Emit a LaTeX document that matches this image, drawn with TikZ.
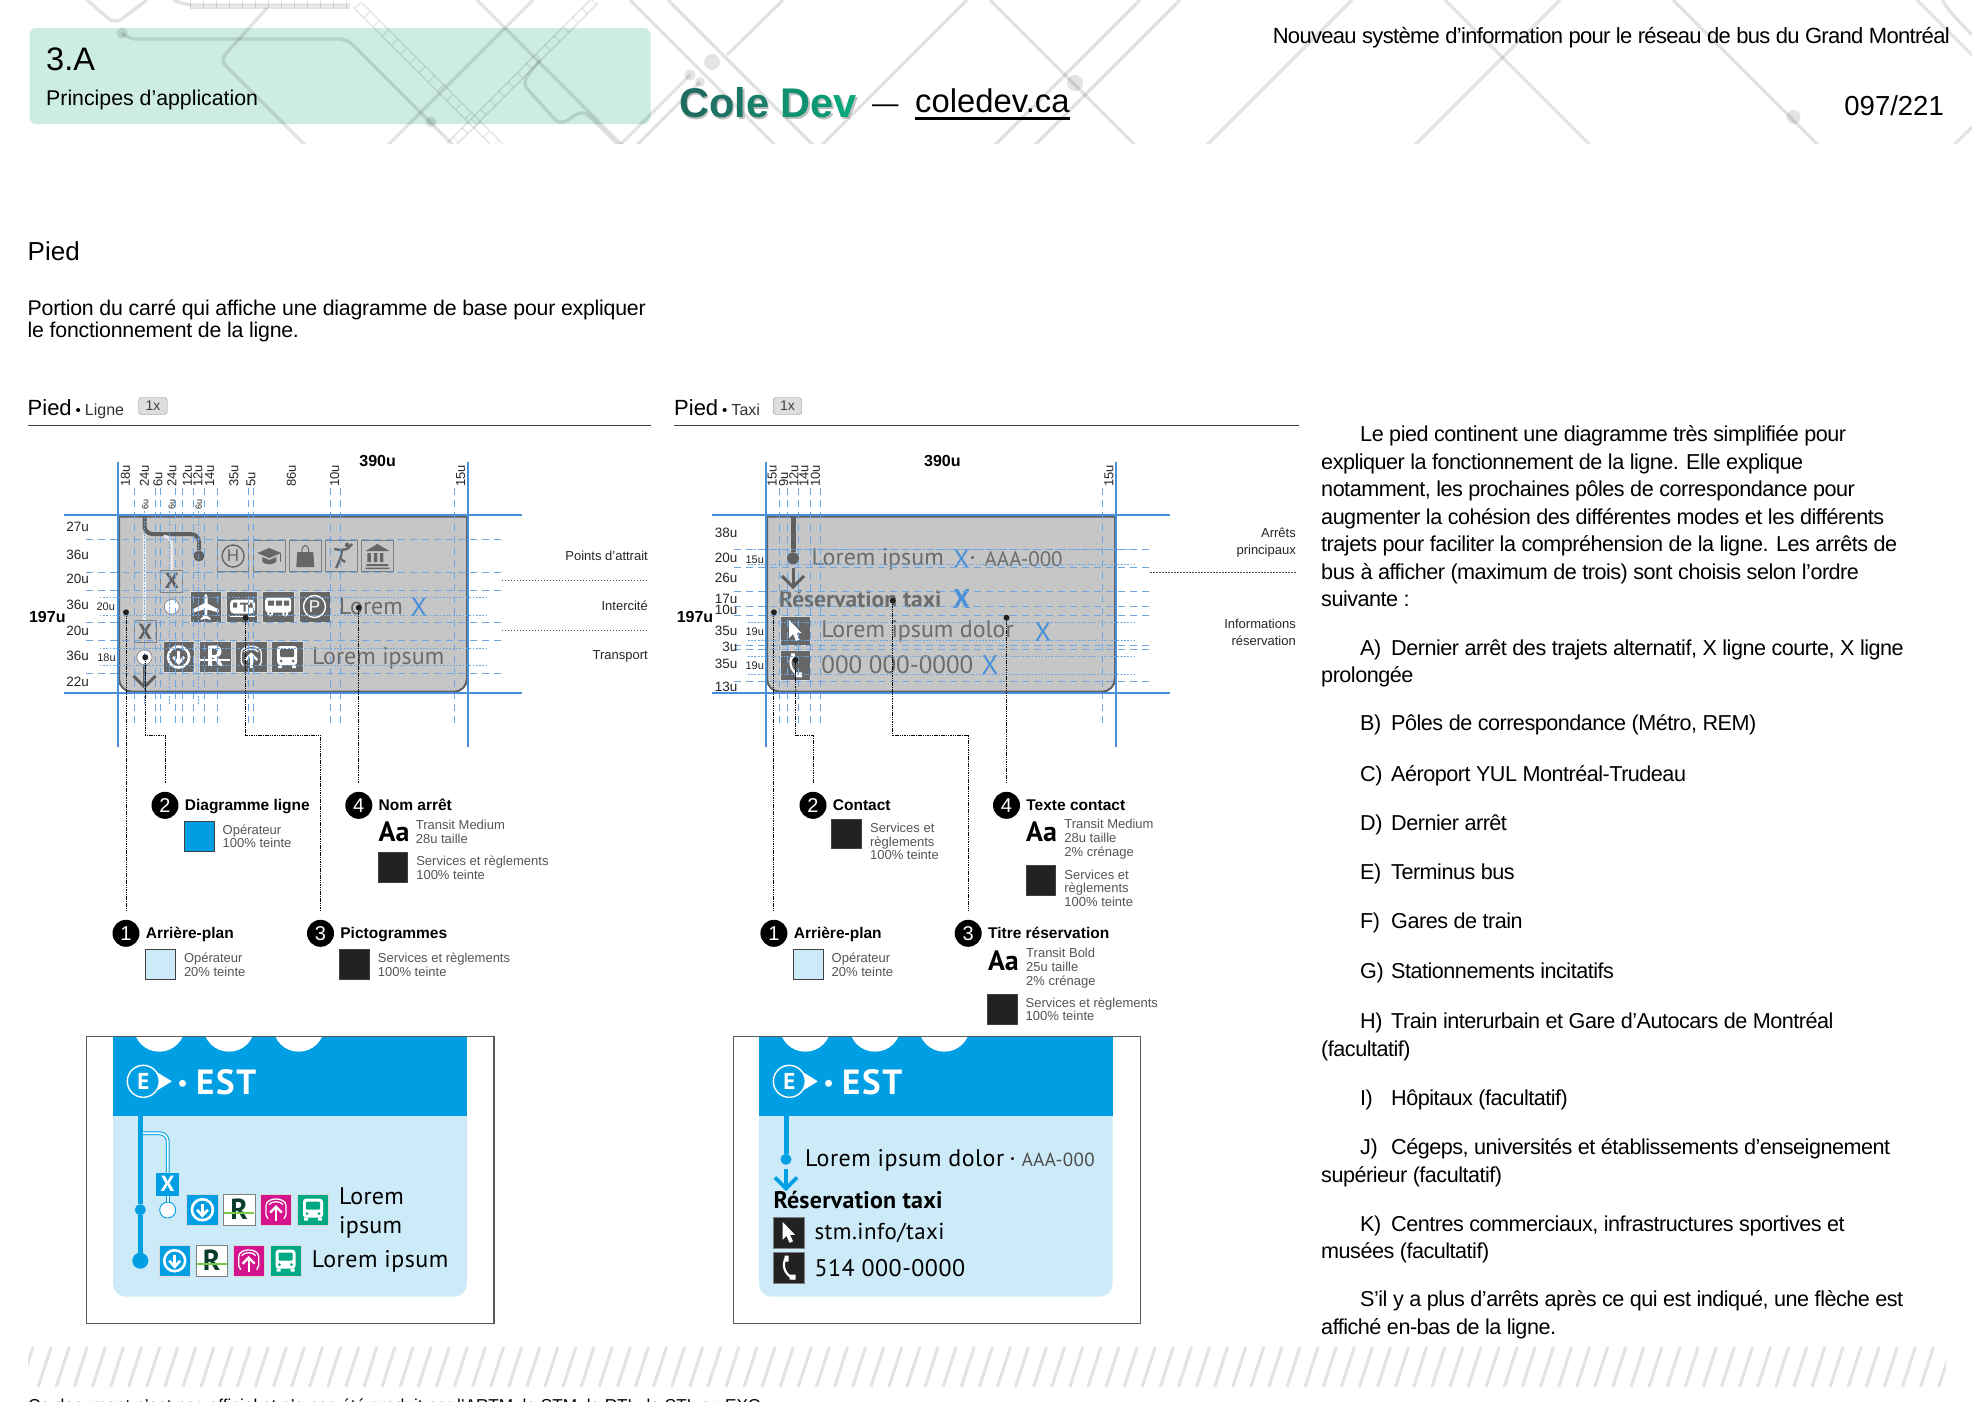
\documentclass[tikz,border=0pt]{standalone}
\usepackage{fontspec}
\setmainfont{Liberation Sans}[Ligatures=ResetAll]
\newfontfamily\transit{PT Sans}
\usetikzlibrary{arrows.meta,positioning,calc}
\definecolor{opblue}{HTML}{009FE3}
\definecolor{oplight}{HTML}{CCEAF7}
\definecolor{guideblue}{HTML}{4A90D9}
\definecolor{panelgray}{HTML}{C6C6C6}
\definecolor{paneledge}{HTML}{5F5F5F}
\definecolor{icongray}{HTML}{666666}
\definecolor{inkdark}{HTML}{222222}
\definecolor{notegray}{HTML}{555555}
\definecolor{softteal}{HTML}{CCECE4}
\definecolor{trainpink}{HTML}{D4148C}
\definecolor{busgreen}{HTML}{00A883}
\definecolor{rgreen}{HTML}{0B3D2E}
\definecolor{rline}{HTML}{7AC943}
\newcommand{\sizept}[1]{\fontsize{#1}{#1}\selectfont}
\newcommand{\itemtag}[1]{\hspace*{39pt}\makebox[31pt][l]{#1}}
\tikzset{
  pics/metroicon/.style={code={
    \draw[#1,line width=2.6pt] (0,0) circle (10.5);
    \draw[#1,line width=2.6pt] (0,-6)--(0,6);
    \draw[#1,line width=2.6pt] (-5.5,0)--(0,6)--(5.5,0);
  }},
  pics/ricon/.style 2 args={code={
    \node[inner sep=0,text=#1,font=\transit\bfseries\sizept{29}] (-r) at (0,-1) {R};
    \draw[#2,line width=2pt] (-15,3)--(15,3);
  }},
  pics/trainicon/.style={code={
    \draw[#1,line width=1.3pt] (-8,9)--(-10,5)--(-10,-4) .. controls (-10,-13) and (10,-13) .. (10,-4)--(10,5)--(8,9);
    \draw[#1,line width=1.3pt] (-7,-5) .. controls (-5,-9) and (5,-9) .. (7,-5);
    \draw[#1,line width=2.4pt] (0,11)--(0,-3);
    \draw[#1,line width=2.4pt] (-6,3)--(0,-3)--(6,3);
  }},
  pics/busicon/.style 2 args={code={
    \fill[#1,rounded corners=3pt] (-10,-11) rectangle (10,8);
    \fill[#2,rounded corners=1pt] (-7,-8) rectangle (7,0);
    \fill[#2] (-6,4) circle (1.5) (6,4) circle (1.5);
    \fill[#1] (-9,8) rectangle (-5,11) (5,8) rectangle (9,11);
  }},
  pics/planeicon/.style={code={
    \fill[#1] (0,-13)--(1.8,-10)--(1.8,-3)--(13,3)--(13,6)--(1.8,3)--(1.4,9)--(5,12)--(5,13.5)--(0,12)--(-5,13.5)--(-5,12)--(-1.4,9)--(-1.8,3)--(-13,6)--(-13,3)--(-1.8,-3)--(-1.8,-10)--cycle;
  }},
  pics/tramicon/.style 2 args={code={
    \fill[#1,rounded corners=4pt] (-12,-7) rectangle (13,7);
    \fill[#2] (-9,-4) rectangle (-5,1) (-2,-4) rectangle (8,-2) (1.5,-2) rectangle (3.5,5) (6,-4)--(10,-4)--(11,1)--(6,1)--cycle;
    \fill[#1] (-12,9) rectangle (13,10.5);
  }},
  pics/coachicon/.style 2 args={code={
    \fill[#1,rounded corners=3pt] (-13,-9) rectangle (13,6);
    \fill[#2] (-10,-6) rectangle (-4,-1) (-2,-6) rectangle (4,-1) (6,-6) rectangle (11,-1);
    \fill[#1] (-8,7) circle (3) (7,7) circle (3);
    \fill[#2] (-8,7) circle (1.2) (7,7) circle (1.2);
  }},
  pics/hicon/.style 2 args={code={
    \draw[#1,line width=1.4pt] (0,0) circle (11);
    \node[inner sep=0,text=#1,font=\sizept{17}] (-t) at (0,0) {#2};
  }},
  pics/capicon/.style={code={
    \fill[#1] (-12,-3)--(0,-8)--(12,-3)--(0,2)--cycle;
    \fill[#1] (-7,1)--(0,4)--(7,1)--(7,6) .. controls (3,9) and (-3,9) .. (-7,6)--cycle;
    \draw[#1,line width=1pt] (11,-3)--(11,6);
  }},
  pics/bagicon/.style={code={
    \fill[#1] (-8,-4)--(8,-4)--(9,11)--(-9,11)--cycle;
    \draw[#1,line width=1pt] (-3.5,-4) .. controls (-3.5,-13) and (3.5,-13) .. (3.5,-4);
  }},
  pics/runicon/.style={code={
    \fill[#1] (6,-11) circle (2.4);
    \draw[#1,line width=2.4pt] (-7,-7)--(-1,-6)--(6,-7) (1,-6)--(-1,3)--(-5,12) (-1,3)--(4,6) (11,-12)--(6,-7);
  }},
  pics/museumicon/.style={code={
    \fill[#1] (-12,-5)--(0,-12)--(12,-5)--cycle;
    \fill[#1] (-10,-3) rectangle (-6.5,6) (-3.5,-3) rectangle (-0,6) (2.5,-3) rectangle (6,6);
    \fill[#1] (-11,8) rectangle (11,10) (-12,11.5) rectangle (12,13);
  }},
  pics/cursoricon/.style={code={
    \fill[#1] (-6,-11)--(-6,7)--(-2,3)--(1,10)--(4.5,8.5)--(1.5,2)--(6.5,2)--cycle;
  }},
  pics/phoneicon/.style={code={
    \draw[#1,line width=2.2pt] (-2,-11) .. controls (-8,-2) and (-3,8) .. (6,11);
    \fill[#1] (-4,-12) rectangle (0,-6) (1,7) rectangle (7,12);
  }}
}
\newcommand{\colorrow}[6]{%
  \node[iconbox,fill=opblue] (#1a) at (#2,#6) {};
  \pic at (#2,#6) {metroicon=white};
  \node[iconbox,fill=white,draw=gray] (#1b) at (#3,#6) {};
  \pic at (#3,#6) {ricon={rgreen}{rline}};
  \node[iconbox,fill=trainpink] (#1c) at (#4,#6) {};
  \pic at (#4,#6) {trainicon=white};
  \node[iconbox,fill=busgreen] (#1d) at (#5,#6) {};
  \pic at (#5,#6) {busicon={white}{busgreen}};
}
\newcommand{\cardhead}[7]{%
  \fill[oplight] (#2,1115) -- (#2,1200) [rounded corners=13pt] -- (#2,1296.7) -- (#3,1296.7) -- (#3,1200) [sharp corners] -- (#3,1115) -- cycle;
  \fill[opblue] (#2,1036.7) rectangle (#3,1115.7);
  \begin{scope}
    \clip (#2,1036.7) rectangle (#3,1115.7);
    \fill[white] (#4,1026) circle (25.7) (#5,1026) circle (25.7) (#6,1026) circle (25.7);
  \end{scope}
  \fill[white] ($(#7,1081.3)+(14,-9)$) -- ($(#7,1081.3)+(28.5,0)$) -- ($(#7,1081.3)+(14,9)$) -- cycle;
  \node[circle,draw=white,fill=opblue,line width=1.4pt,minimum size=32pt,inner sep=0,text=white,font=\transit\bfseries\sizept{23}] (#1e) at (#7,1081.3) {E};
  \node[circle,fill=white,minimum size=7pt,inner sep=0] (#1p) at ($(#7,1083.3)+(39.2,0)$) {};
  \node[anchor=west,inner sep=0,text=white,font=\transit\bfseries\sizept{35}\addfontfeatures{LetterSpace=5}] (#1s) at ($(#7,1082.3)+(52.5,0)$) {EST};
}
\begin{document}
\begin{tikzpicture}[x=1pt,y=-1pt,
  bgline/.style={line width=3.4pt,black,opacity=.11,rounded corners=8pt},
  bgrail/.style={line width=1.4pt,black,opacity=.11},
  bgtick/.style={line width=8pt,black,opacity=.11,dash pattern=on 1pt off 12pt},
  hatchline/.style={line width=3pt,black!11},
  headtxt/.style={anchor=base west,inner sep=0},
  para/.style={anchor=north west,inner sep=0,align=left,font=\fontsize{21.6}{27.5}\selectfont\addfontfeatures{LetterSpace=-2.3},execute at begin node=\strut},
  rulehead/.style={draw=black!75,line width=1pt},
  keybox/.style={draw=black!45,fill=black!13,rounded corners=3pt,minimum width=28.5pt,minimum height=17pt,inner sep=0,text=black!75,font=\sizept{14}},
  boldguide/.style={guideblue,line width=2pt},
  dashguide/.style={guideblue!80,line width=1pt,dash pattern=on 7pt off 5pt},
  dotguide/.style={guideblue!80,line width=1pt,dash pattern=on 1.8pt off 1.5pt},
  ulabel/.style={inner sep=0,font=\sizept{13.5},text=black!85},
  rowlabel/.style={ulabel,anchor=east},
  collabel/.style={ulabel,rotate=90,anchor=west,font=\sizept{13}},
  sublabel/.style={ulabel,font=\sizept{11}},
  sidelabel/.style={anchor=east,inner sep=0,align=right,font=\fontsize{13}{16.5}\selectfont,text=black!85},
  sideline/.style={black!70,line width=1pt,dash pattern=on 1.5pt off 1.5pt},
  totallabel/.style={inner sep=0,font=\bfseries\sizept{16}},
  panelfill/.style={fill=panelgray,draw=paneledge,line width=2pt},
  iconbox/.style={rectangle,minimum size=31.4pt,inner sep=0,draw=white!85!black,line width=.5pt},
  outlinebox/.style={iconbox,fill=panelgray,draw=black!50,line width=.8pt},
  xbox/.style={rectangle,inner sep=0,minimum width=22pt,minimum height=22pt,font=\transit\bfseries\sizept{22}},
  glosstxt/.style={anchor=west,inner sep=0,font=\transit\sizept{24},text=black!58},
  glossblue/.style={glosstxt,text=guideblue},
  stoptxt/.style={anchor=west,inner sep=0,font=\transit\sizept{24}\addfontfeatures{LetterSpace=2},text=black},
  stopring/.style={circle,draw=black!45,fill=white,line width=.8pt,minimum size=15pt,inner sep=0},
  linedot/.style={circle,inner sep=0},
  lineback/.style={line width=4pt,rounded corners=8pt},
  arrowline/.style={line width=3pt,-{Straight Barb[length=11pt,width=22pt]}},
  leaddot/.style={circle,fill=inkdark,minimum size=6pt,inner sep=0},
  leader/.style={black,line width=1pt,dash pattern=on 1.5pt off .8pt,shorten >=9pt},
  numcirc/.style={circle,fill=black,text=white,minimum size=27pt,inner sep=0,font=\sizept{20}},
  legtitle/.style={anchor=west,inner sep=0,text height=.74em,text depth=.22em,yshift=-2.5pt,font=\bfseries\sizept{15.5}},
  swatch/.style={rectangle,anchor=north west,draw=black!75,minimum width=29.5pt,minimum height=29.5pt,inner sep=0,line width=1pt},
  legnote/.style={anchor=west,inner sep=0,align=left,font=\fontsize{13}{13.6}\selectfont,text=notegray},
  aamark/.style={anchor=north west,inner sep=0,font=\transit\bfseries\sizept{28}},
  cardframe/.style={draw=black!65,line width=1.2pt}
]
\useasboundingbox (0,0) rectangle (1972,1401);
\fill[white] (0,0) rectangle (1972,1401);

\node[fill=softteal,rounded corners=7pt,minimum width=621pt,minimum height=96pt,inner sep=0] (headbox) at (340,76) {};
\begin{scope}
  \clip (0,0) rectangle (1972,143);
  \draw[bgline] (87,0) -- (115,24) -- (147,0);
  \draw[bgline] (122,33) -- (128,39) -- (347,39) -- (456,148);
  \draw[bgline] (267,8) -- (220,60) -- (310,150);
  \draw[bgline] (173,0) -- (187,5) -- (350,5);
  \draw[bgline] (477,0) -- (625,148);
  \draw[bgline] (533,0) -- (385,148);
  \draw[bgline] (540,60) -- (522,83) -- (560,125) -- (583,110) -- (620,147);
  \draw[bgline] (630,0) -- (778,148);
  \draw[bgline] (668,0) -- (816,148);
  \draw[bgline] (783,0) -- (727,55);
  \draw[bgline] (690,75) -- (620,145);
  \draw[bgline] (700,82) -- (636,146);
  \draw[bgline] (967,0) -- (820,147);
  \draw[bgline] (990,0) -- (1138,148);
  \draw[bgline] (1140,0) -- (993,147);
  \draw[bgline] (1180,0) -- (1030,150);
  \draw[bgline] (1352,0) -- (1205,147);
  \draw[bgline] (1445,0) -- (1593,148);
  \draw[bgline] (1560,0) -- (1412,148);
  \draw[bgline] (1673,0) -- (1823,150);
  \draw[bgline] (1917,0) -- (1972,55);
  \draw[bgline] (1942,0) -- (1951,13) -- (1972,35);
  \draw[bgline] (1972,127) -- (1951,148);
  \draw[bgrail] (353,7) -- (495,149);
  \draw[bgrail] (362,3) -- (504,145);
  \draw[bgtick] (357.5,5) -- (499.5,147);
  \draw[bgrail] (590,0) -- (447,143);
  \draw[bgrail] (598,3) -- (455,146);
  \draw[bgtick] (594,1.5) -- (451,144.5);
  \draw[bgrail] (190,8) -- (350,8);
  \draw[bgtick] (190,4) -- (350,4);
  \fill[black,opacity=.11] (122,33) circle (5.5) (431,122) circle (5.5) (712,62) circle (8) (690,75) circle (5.5) (700,82) circle (5) (1075,83) circle (8) (1793.5,117) circle (7);
\end{scope}

\node[headtxt,font=\sizept{32.5}] (secnum) at (46,70) {3.A};
\node[headtxt,font=\sizept{21.3}] (sectitle) at (46,105) {Principes d'application};
\node[headtxt,font=\bfseries\sizept{41.5},text=black!45,opacity=.55] (brandshadow) at (680.5,119.5) {Cole Dev};
\node[headtxt,font=\bfseries\sizept{41.5}] (brand) at (679,117) {\textcolor[HTML]{1E6B60}{C}\textcolor[HTML]{1D7265}{o}\textcolor[HTML]{1B7868}{l}\textcolor[HTML]{197F6B}{e} \textcolor[HTML]{0F9070}{D}\textcolor[HTML]{0B9874}{e}\textcolor[HTML]{08A67B}{v}};
\node[headtxt,font=\sizept{26.5}] (branddash) at (872,112) {\textemdash};
\node[headtxt,font=\sizept{32.8}] (brandlink) at (915,112.7) {coledev.ca};
\draw[line width=2.7pt] ($(brandlink.base west)+(0,5.6)$) -- ($(brandlink.base east)+(0,5.6)$);
\node[anchor=base east,inner sep=0,font=\sizept{22}\addfontfeatures{LetterSpace=-3.1}] (doctitle) at (1950,43.3) {Nouveau système d’information pour le réseau de bus du Grand Montréal};
\node[anchor=base east,inner sep=0,font=\sizept{27.5}] (pagenum) at (1944,115) {097/221};
\node[headtxt,font=\sizept{26}] (mainhead) at (27.5,260.7) {Pied};
\node[anchor=north west,inner sep=0,align=left,font=\fontsize{21.3}{21.7}\selectfont\addfontfeatures{LetterSpace=-1.1},execute at begin node=\strut] (intro) at (27.5,299.8) {Portion du carré qui affiche une diagramme de base pour expliquer\\le fonctionnement de la ligne.};

\node[headtxt,font=\sizept{22}] (heada) at (27.5,415) {Pied\hspace{4pt}{\sizept{15}\textbullet}\hspace{4pt}\sizept{16}\textcolor{black!80}{Ligne}};
\node[keybox,anchor=west] (keya) at (138.5,406) {1x};
\draw[rulehead] (27.5,425) -- (651,425);
\node[headtxt,font=\sizept{22}] (headb) at (674,415) {Pied\hspace{4pt}{\sizept{15}\textbullet}\hspace{4pt}\sizept{16}\textcolor{black!80}{Taxi}};
\node[keybox,anchor=west] (keyb) at (773,406) {1x};
\draw[rulehead] (674,425) -- (1299,425);

\draw[panelfill] (119,516.7) -- (119,600) [rounded corners=13pt] -- (119,691.7) -- (467,691.7) -- (467,600) [sharp corners] -- (467,516.7) -- cycle;
\coordinate (linetopa) at (144.5,517);
\node[linedot,fill=paneledge,minimum size=11pt] (linedota) at (199,556) {};
\draw[paneledge,lineback] (linetopa) -- (144.5,534) -- (199,534) -- (linedota);
\draw[white!92!black,line width=2.5pt] (144.5,534) -- (144.5,620.7);
\draw[white!92!black,line width=2.5pt,rounded corners=8pt] (163.7,536) -- (171.8,536) -- (171.8,570.3);
\node[xbox,outlinebox,minimum size=0pt,minimum width=22pt,minimum height=21.7pt,text=black!62] (xboxa) at (171.8,581.1) {X};
\node[xbox,outlinebox,minimum size=0pt,minimum width=22pt,minimum height=21.7pt,text=black!62] (xboxb) at (145.2,631.5) {X};
\node[stopring] (stopa) at (171.8,606.7) {};
\node[stopring] (stopb) at (144.5,657.3) {};
\coordinate (arrowenda) at (144.5,689);
\draw[paneledge,arrowline] (stopb) -- (arrowenda);

\node[outlinebox] (hospital) at (233.1,556) {};
\pic at (233.1,556) {hicon={icongray}{H}};
\node[outlinebox] (college) at (269.3,556) {};
\pic at (269.3,556) {capicon=icongray};
\node[outlinebox] (shopping) at (305.3,556) {};
\pic at (305.3,556) {bagicon=icongray};
\node[outlinebox] (sports) at (341.2,556) {};
\pic at (341.2,556) {runicon=icongray};
\node[outlinebox] (museum) at (377.4,556) {};
\pic at (377.4,556) {museumicon=icongray};

\node[iconbox,fill=icongray] (airport) at (205.7,606.5) {};
\pic at (205.7,606.5) {planeicon=white};
\node[iconbox,fill=icongray] (trainint) at (242,606.5) {};
\pic at (242,606.5) {tramicon={white}{icongray}};
\node[iconbox,fill=icongray] (coachstn) at (278.2,606.5) {};
\pic at (278.2,606.5) {coachicon={white}{icongray}};
\node[iconbox,fill=icongray] (parking) at (314.5,606.5) {};
\pic at (314.5,606.5) {hicon={white}{P}};
\node[glosstxt] (stopnamea) at (339,606.7) {Lorem};
\node[glossblue,font=\transit\sizept{27}] (stopxa) at (410.5,606.7) {X};

\node[iconbox,fill=icongray] (metroa) at (178.6,657) {};
\pic at (178.6,657) {metroicon=white};
\node[iconbox,fill=icongray] (rema) at (215.1,657) {};
\pic at (215.1,657) {ricon={white}{white}};
\node[iconbox,fill=icongray] (traina) at (251.3,657) {};
\pic at (251.3,657) {trainicon=white};
\node[iconbox,fill=icongray] (busa) at (287.2,657) {};
\pic at (287.2,657) {busicon={white}{icongray}};
\node[glosstxt] (stopnameb) at (312,658) {Lorem ipsum};

\foreach \vx in {134.3,155.5,160.8,175.5,182.9,193.9,204.5,217.6,248.6,253,330.6,340,454.7}
  \draw[dashguide] (\vx,488) -- (\vx,728);
\foreach \vx in {144.5,169,198.8}
  \draw[dotguide] (\vx,511) -- (\vx,705);
\foreach \hy in {539.3,572.3,590,622.7,640.7,673}
  \draw[dashguide] (86,\hy) -- (504,\hy);
\foreach \hy in {597.3,615.3,648.7,665}
  \draw[dotguide] (99.6,\hy) -- (486,\hy);
\draw[boldguide] (118.4,461.7) -- (118.4,747);
\draw[boldguide] (467.8,461.7) -- (467.8,747);
\draw[boldguide] (64,515.3) -- (522,515.3);
\draw[boldguide] (64,692.7) -- (522,692.7);

\foreach \lx/\txt in {125.3/18u,144.5/24u,158/6u,171.8/24u,187.3/12u,198/12u,209.8/14u,233.9/35u,251/5u,291.4/86u,334.7/10u,460.8/15u}
  \node[collabel] (col\lx) at (\lx,486.7) {\txt};
\foreach \lx in {145.3,171.8,198.8}
  \node[collabel,font=\sizept{9}] (sub\lx) at (\lx,510) {6u};
\foreach \ly/\txt in {527.3/27u,555.3/36u,579.3/20u,605.3/36u,631.3/20u,656.3/36u,682.3/22u}
  \node[rowlabel] (row\ly) at (89,\ly) {\txt};
\node[sublabel] (subrowa) at (105.7,606.3) {20u};
\node[sublabel] (subrowb) at (106.5,657.3) {18u};
\node[totallabel] (heighta) at (47.3,617.3) {197u};
\node[totallabel] (widtha) at (377.6,461.3) {390u};

\node[sidelabel] (sideattract) at (648,555.7) {Points d'attrait};
\node[sidelabel] (sideinter) at (648,605.7) {Intercité};
\node[sidelabel] (sidetransit) at (648,656.7) {Transport};
\coordinate (sepaw) at (501.6,580);
\coordinate (sepae) at (648.6,580);
\coordinate (sepbw) at (501.6,630.7);
\coordinate (sepbe) at (648.6,630.7);
\draw[sideline] (sepaw) -- (sepae);
\draw[sideline] (sepbw) -- (sepbe);

\node[leaddot] (da1) at (126,612.3) {};
\node[leaddot] (da2) at (145.3,657.3) {};
\node[leaddot] (da3) at (245.7,617.7) {};
\node[leaddot] (da4) at (358.8,607.7) {};
\node[numcirc] (na1) at (126,933.3) {1};
\node[numcirc] (na2) at (165,805.3) {2};
\node[numcirc] (na3) at (320.5,933.3) {3};
\node[numcirc] (na4) at (358.8,805.3) {4};
\coordinate (ea2) at (165,735);
\coordinate (ea3) at (320.5,735);
\draw[leader] (da1) -- (na1);
\draw[leader] (da2) |- (ea2) -- (na2);
\draw[leader] (da3) |- (ea3) -- (na3);
\draw[leader] (da4) -- (na4);

\node[legtitle,right=6pt of na1] (ta1) {Arrière-plan};
\node[swatch,fill=oplight] (sa1) at (145.3,949.3) {};
\node[legnote,right=8pt of sa1] (ka1) {Opérateur\\20\% teinte};
\node[legtitle,right=6pt of na2] (ta2) {Diagramme ligne};
\node[swatch,fill=opblue] (sa2) at (184,821) {};
\node[legnote,right=8pt of sa2] (ka2) {Opérateur\\100\% teinte};
\node[legtitle,right=6pt of na3] (ta3) {Pictogrammes};
\node[swatch,fill=inkdark] (sa3) at (339.2,949.3) {};
\node[legnote,right=8pt of sa3] (ka3) {Services et règlements\\100\% teinte};
\node[legtitle,right=6pt of na4] (ta4) {Nom arrêt};
\node[aamark] (aaa4) at (378.4,821.5) {Aa};
\node[legnote,right=6pt of aaa4] (fa4) {Transit Medium\\28u taille};
\node[swatch,fill=inkdark] (sa4) at (377.6,852.3) {};
\node[legnote,right=8pt of sa4] (ka4) {Services et règlements\\100\% teinte};

\draw[panelfill] (767,516.7) -- (767,600) [rounded corners=13pt] -- (767,691.7) -- (1115,691.7) -- (1115,600) [sharp corners] -- (1115,516.7) -- cycle;
\coordinate (linetopb) at (793,517);
\node[linedot,fill=paneledge,minimum size=12pt] (linedotb) at (793,558.3) {};
\draw[paneledge,line width=5pt] (linetopb) -- (linedotb);
\coordinate (arrowbtop) at (793,568);
\coordinate (arrowbend) at (793,589);
\draw[paneledge,arrowline] (arrowbtop) -- (arrowbend);
\node[glosstxt] (taxistop) at (811.5,559) {Lorem ipsum};
\node[glossblue,font=\transit\sizept{27}] (taxix) at (953,559) {X};
\node[glosstxt,font=\transit\sizept{11}] (taxisep) at (970,559) {\textbullet};
\node[glosstxt,font=\transit\sizept{21}] (taxicode) at (984.5,559) {AAA-000};
\node[glosstxt,font=\transit\bfseries\sizept{23.5}] (taxititle) at (779,599.3) {Réservation taxi};
\node[glossblue,font=\transit\bfseries\sizept{27}] (taxixb) at (953,599.3) {X};
\node[iconbox,fill=icongray,minimum size=29.4pt] (iconweb) at (795.1,631) {};
\pic at (795.1,631) {cursoricon=white};
\node[iconbox,fill=icongray,minimum size=29.4pt] (icontel) at (795.1,665.3) {};
\pic at (795.1,665.3) {phoneicon=white};
\node[glosstxt] (taxiweb) at (821.2,631.7) {Lorem ipsum dolor};
\node[glossblue,font=\transit\sizept{27}] (taxiwebx) at (1034.5,631.7) {X};
\node[glosstxt,font=\transit\sizept{25}] (taxitel) at (821.2,665) {000 000-0000};
\node[glossblue,font=\transit\sizept{27}] (taxitelx) at (981.5,665) {X};

\foreach \vx in {779.6,787.3,798.4,810.6,820.4,1102.4}
  \draw[dashguide] (\vx,488) -- (\vx,727);
\foreach \hy in {549.3,567.3,591,606.3,615.3,645,649.3,681}
  \draw[dashguide] (734.3,\hy) -- (1151.8,\hy);
\foreach \hy in {549.3,564.7,622.7,640,656.7,674.3}
  \draw[dotguide] (747.8,\hy) -- (1134,\hy);
\draw[boldguide] (766,461.7) -- (766,747);
\draw[boldguide] (1116,461.7) -- (1116,747);
\draw[boldguide] (711.8,515.3) -- (1170,515.3);
\draw[boldguide] (711.8,692.7) -- (1170,692.7);

\foreach \lx/\txt in {772.2/15u,783.7/9u,793.9/12u,804/14u,815.5/10u,1109/15u}
  \node[collabel] (tcol\lx) at (\lx,486.7) {\txt};
\foreach \ly/\txt in {533.3/38u,558.3/20u,578.3/26u,599.3/17u,610.3/10u,631.3/35u,646.7/3u,664.3/35u,686.7/13u}
  \node[rowlabel] (trow\ly) at (737.6,\ly) {\txt};
\node[sublabel] (tsuba) at (754.7,559.3) {15u};
\node[sublabel] (tsubb) at (754.7,631.3) {19u};
\node[sublabel] (tsubc) at (754.7,666) {19u};
\node[totallabel] (heightb) at (695,617.3) {197u};
\node[totallabel] (widthb) at (942.4,461.3) {390u};

\node[sidelabel] (sidemain) at (1296,542.5) {Arrêts\\principaux};
\node[sidelabel] (sideinfo) at (1296,632.5) {Informations\\réservation};
\coordinate (sepcw) at (1150,572);
\coordinate (sepce) at (1296.7,572);
\draw[sideline] (sepcw) -- (sepce);

\node[leaddot] (db1) at (773.9,612.3) {};
\node[leaddot] (db2) at (795.5,660) {};
\node[leaddot] (db3) at (892.7,600.7) {};
\node[leaddot] (db4) at (1006.5,617.7) {};
\node[numcirc] (nb1) at (773.9,933.3) {1};
\node[numcirc] (nb2) at (813,805.3) {2};
\node[numcirc] (nb3) at (968.2,933.3) {3};
\node[numcirc] (nb4) at (1006.5,805.3) {4};
\coordinate (eb2) at (813,735);
\coordinate (eb3) at (968.2,735);
\draw[leader] (db1) -- (nb1);
\draw[leader] (db2) |- (eb2) -- (nb2);
\draw[leader] (db3) |- (eb3) -- (nb3);
\draw[leader] (db4) -- (nb4);

\node[legtitle,right=6pt of nb1] (tb1) {Arrière-plan};
\node[swatch,fill=oplight] (sb1) at (793,949.3) {};
\node[legnote,right=8pt of sb1] (kb1) {Opérateur\\20\% teinte};
\node[legtitle,right=6pt of nb2] (tb2) {Contact};
\node[swatch,fill=inkdark] (sb2) at (831.4,818.7) {};
\node[legnote,right=8pt of sb2,yshift=-7.5pt] (kb2) {Services et\\règlements\\100\% teinte};
\node[legtitle,right=6pt of nb3] (tb3) {Titre réservation};
\node[aamark] (aab3) at (987.8,950.5) {Aa};
\node[legnote,right=7pt of aab3,yshift=-7.5pt] (fb3) {Transit Bold\\25u taille\\2\% crénage};
\node[swatch,fill=inkdark] (sb3) at (987,994) {};
\node[legnote,right=8pt of sb3] (kb3) {Services et règlements\\100\% teinte};
\node[legtitle,right=6pt of nb4] (tb4) {Texte contact};
\node[aamark] (aab4) at (1026,821.5) {Aa};
\node[legnote,right=7pt of aab4,yshift=-7.5pt] (fb4) {Transit Medium\\28u taille\\2\% crénage};
\node[swatch,fill=inkdark] (sb4) at (1025.7,865.3) {};
\node[legnote,right=8pt of sb4,yshift=-7.5pt] (kb4) {Services et\\règlements\\100\% teinte};

\cardhead{ca}{113}{467}{159.3}{229}{298.7}{143.3}
\coordinate (cardlinetopa) at (140.3,1115.7);
\node[linedot,fill=opblue,minimum size=16pt] (cardenda) at (140.3,1260.7) {};
\node[linedot,fill=opblue,minimum size=11pt] (cardmida) at (140.3,1209.7) {};
\draw[opblue,line width=5pt] (cardlinetopa) -- (cardmida) -- (cardenda);
\node[xbox,fill=opblue,text=white,minimum width=22.7pt,minimum height=23pt] (cardx) at (167.7,1184.2) {X};
\node[circle,draw=opblue,fill=white,line width=.9pt,minimum size=16pt,inner sep=0] (cardstop) at (167.7,1210) {};
\coordinate (branchstart) at (142.7,1133.3);
\draw[opblue,line width=3.8pt,rounded corners=8pt] (branchstart) -- (167.7,1133.3) -- (cardx);
\draw[white,line width=1.8pt,rounded corners=8pt] (branchstart) -- (167.7,1133.3) -- (cardx);
\draw[opblue,line width=3.8pt] (cardx) -- (cardstop);
\draw[white,line width=1.8pt] (cardx) -- (cardstop);
\colorrow{rowa}{202.4}{239.2}{276}{313}{1209.7}
\colorrow{rowb}{174.7}{211.5}{248.7}{285.5}{1260.7}
\node[stoptxt,align=left,font=\fontsize{24}{29.5}\selectfont\transit\addfontfeatures{LetterSpace=1}] (cardstopa) at (339,1213) {Lorem\\ipsum};
\node[stoptxt] (cardstopb) at (311.7,1261.7) {Lorem ipsum};
\draw[cardframe] (86.3,1036.7) rectangle (494,1323.3);

\cardhead{cb}{759}{1112.7}{805.3}{875}{944.3}{789.3}
\coordinate (cardlinetopb) at (786,1115.7);
\node[linedot,fill=opblue,minimum size=11pt] (cardendb) at (786,1159.3) {};
\draw[opblue,line width=5pt] (cardlinetopb) -- (cardendb);
\coordinate (cardarrowtop) at (786,1169);
\coordinate (cardarrowend) at (786,1191);
\draw[opblue,line width=3.6pt,-{Straight Barb[length=11pt,width=22pt]}] (cardarrowtop) -- (cardarrowend);
\node[stoptxt] (cardstopc) at (805,1160) {Lorem ipsum dolor};
\node[stoptxt,font=\transit\sizept{11},text=inkdark] (cardsep) at (1010,1160) {\textbullet};
\node[stoptxt,font=\transit\sizept{19}\addfontfeatures{LetterSpace=2},text=black!70] (cardcode) at (1021.7,1160) {AAA-000};
\node[stoptxt,font=\transit\bfseries\sizept{24}\addfontfeatures{LetterSpace=1}] (cardtitle) at (773.3,1200) {Réservation taxi};
\node[iconbox,fill=inkdark,draw=gray] (cardweb) at (788.5,1232.8) {};
\pic at (788.5,1232.8) {cursoricon=white};
\node[iconbox,fill=inkdark,draw=gray] (cardtel) at (788.5,1267.7) {};
\pic at (788.5,1267.7) {phoneicon=white};
\node[stoptxt,font=\transit\sizept{23}\addfontfeatures{LetterSpace=2}] (cardsite) at (814.3,1233.3) {stm.info/taxi};
\node[stoptxt] (cardphone) at (814.3,1267.7) {514 000-0000};
\draw[cardframe] (733.7,1036.7) rectangle (1140.3,1323.3);

\node[para] (body0) at (1321,425.5) {\hspace*{39pt}Le pied continent une diagramme très simplifiée pour\\expliquer la fonctionnement de la ligne. Elle explique\\notamment, les prochaines pôles de correspondance pour\\augmenter la cohésion des différentes modes et les différents\\trajets pour faciliter la compréhension de la ligne. Les arrêts de\\bus à afficher (maximum de trois) sont choisis selon l’ordre\\suivante :};
\node[para] (bodya) at (1321,639.5) {\itemtag{A)}Dernier arrêt des trajets alternatif, X ligne courte, X ligne\\prolongée};
\node[para] (bodyb) at (1321,711.5) {\itemtag{B)}Pôles de correspondance (Métro, REM)};
\node[para] (bodyc) at (1321,762) {\itemtag{C)}Aéroport YUL Montréal-Trudeau};
\node[para] (bodyd) at (1321,811) {\itemtag{D)}Dernier arrêt};
\node[para] (bodye) at (1321,860) {\itemtag{E)}Terminus bus};
\node[para] (bodyf) at (1321,909) {\itemtag{F)}Gares de train};
\node[para] (bodyg) at (1321,959) {\itemtag{G)}Stationnements incitatifs};
\node[para] (bodyh) at (1321,1012.5) {\itemtag{H)}Train interurbain et Gare d’Autocars de Montréal\\(facultatif)};
\node[para] (bodyi) at (1321,1086) {\itemtag{I)}Hôpitaux (facultatif)};
\node[para] (bodyj) at (1321,1138.5) {\itemtag{J)}Cégeps, universités et établissements d’enseignement\\supérieur (facultatif)};
\node[para] (bodyk) at (1321,1215.5) {\itemtag{K)}Centres commerciaux, infrastructures sportives et\\musées (facultatif)};
\node[para] (bodyl) at (1321,1290.5) {\hspace*{39pt}S’il y a plus d’arrêts après ce qui est indiqué, une flèche est\\affiché en-bas de la ligne.};

\begin{scope}
  \clip (28,1340) rectangle (1946,1395);
  \foreach \hx in {20,38.1,...,1950}
    \draw[hatchline] (\hx,1387) -- ({\hx+13},1347);
\end{scope}
\node[headtxt,font=\sizept{17.2}] (disclaimer) at (28,1411) {Ce document n'est pas officiel et n'a pas été produit par l'ARTM, la STM, le RTL, la STL ou EXO};
\end{tikzpicture}
\end{document}
